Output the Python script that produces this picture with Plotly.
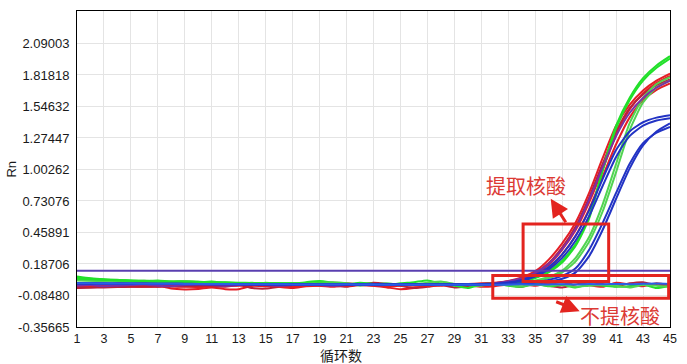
import plotly.graph_objects as go

cycles = list(range(1, 46))

# ---- non-amplifying (不提核酸) curves ----
red_flat_1 = [0.000, -0.005, 0.005, 0.020, 0.040,
              0.030, 0.005, -0.025, -0.032, -0.028,
              -0.015, -0.030, -0.030, 0.000, 0.012,
              0.005, -0.005, 0.000, 0.015, 0.025,
              0.020, 0.010, 0.000, -0.015, -0.030,
              -0.020, 0.000, 0.010, 0.015, 0.005,
              -0.010, -0.005, 0.010, 0.015, 0.000,
              0.020, 0.010, 0.030, 0.005, -0.010,
              0.025, 0.010, -0.005, 0.020, 0.000]
red_flat_2 = [-0.010, -0.012, -0.008, 0.000, 0.010,
              0.005, -0.010, 0.000, 0.015, 0.010,
              -0.005, -0.010, 0.005, -0.020, -0.025,
              -0.010, 0.005, 0.020, 0.010, 0.000,
              -0.010, 0.010, 0.025, 0.015, 0.000,
              -0.020, -0.010, 0.005, -0.015, -0.005,
              0.010, 0.020, 0.005, -0.010, 0.025,
              0.000, -0.015, 0.010, 0.030, 0.015,
              -0.005, 0.020, 0.030, 0.005, 0.010]
green_flat_1 = [0.080, 0.065, 0.055, 0.048, 0.045,
                0.040, 0.045, 0.035, 0.040, 0.030,
                0.035, 0.020, 0.015, 0.025, 0.010,
                0.000, 0.015, 0.030, 0.040, 0.025,
                0.010, 0.025, 0.015, 0.005, 0.020,
                0.030, 0.045, 0.020, 0.000, -0.020,
                0.010, 0.020, 0.000, -0.010, 0.015,
                -0.005, 0.005, -0.015, 0.010, 0.000,
                -0.010, -0.005, 0.010, -0.020, 0.000]
green_flat_2 = [0.060, 0.055, 0.050, 0.050, 0.040,
                0.045, 0.035, 0.030, 0.040, 0.035,
                0.025, 0.030, 0.020, 0.010, 0.025,
                0.015, 0.005, 0.010, 0.025, 0.030,
                0.020, 0.000, 0.010, 0.020, 0.005,
                0.010, 0.025, 0.035, 0.015, 0.005,
                0.000, 0.015, 0.005, -0.005, 0.010,
                0.000, 0.010, -0.010, 0.000, 0.005,
                0.000, -0.015, 0.005, 0.000, -0.010]
blue_flat = [0.020, 0.020, 0.019, 0.018, 0.018,
             0.017, 0.016, 0.016, 0.015, 0.015,
             0.014, 0.014, 0.013, 0.013, 0.012,
             0.012, 0.011, 0.011, 0.010, 0.010,
             0.012, 0.009, 0.010, 0.008, 0.009,
             0.008, 0.010, 0.007, 0.008, 0.009,
             0.007, 0.008, 0.010, 0.012, 0.009,
             0.011, 0.013, 0.010, 0.014, 0.012,
             0.015, 0.013, 0.016, 0.018, 0.015]

# ---- amplifying (提取核酸) curves ----
red_amp_1 = [-0.015, -0.010, -0.012, 0.005, 0.000,
             -0.010, -0.005, 0.010, 0.000, -0.015,
             -0.005, 0.005, 0.000, 0.010, 0.005,
             -0.010, -0.020, -0.005, 0.000, -0.010,
             0.005, 0.015, 0.010, -0.005, 0.000,
             0.010, 0.005, 0.000, 0.010, 0.015,
             0.020, 0.025, 0.040, 0.070, 0.125,
             0.225, 0.365, 0.545, 0.800, 1.100,
             1.380, 1.560, 1.685, 1.770, 1.830]
red_amp_2 = [0.005, 0.000, -0.005, -0.008, -0.010,
             -0.005, 0.000, 0.005, 0.000, -0.005,
             0.000, 0.005, 0.010, 0.005, 0.000,
             0.005, 0.010, 0.005, 0.000, 0.005,
             0.010, 0.005, 0.000, 0.005, 0.010,
             0.005, 0.000, 0.005, 0.010, 0.010,
             0.015, 0.020, 0.030, 0.055, 0.100,
             0.180, 0.310, 0.480, 0.720, 1.000,
             1.300, 1.520, 1.660, 1.750, 1.810]
red_amp_3 = [-0.010, -0.008, -0.005, -0.005, 0.000,
             0.005, 0.000, -0.005, -0.010, -0.005,
             0.000, 0.000, 0.005, 0.000, -0.005,
             0.000, 0.005, 0.010, 0.005, 0.000,
             0.000, 0.005, 0.010, 0.005, 0.005,
             0.000, 0.005, 0.010, 0.005, 0.010,
             0.010, 0.015, 0.025, 0.045, 0.085,
             0.150, 0.270, 0.430, 0.660, 0.940,
             1.220, 1.450, 1.600, 1.690, 1.745]
darkred_amp = [-0.020, -0.018, -0.015, -0.012, -0.010,
               -0.010, -0.008, -0.005, -0.005, 0.000,
               0.000, 0.000, 0.005, 0.005, 0.005,
               0.005, 0.005, 0.010, 0.010, 0.010,
               0.010, 0.010, 0.010, 0.010, 0.010,
               0.010, 0.010, 0.010, 0.010, 0.012,
               0.015, 0.020, 0.035, 0.060, 0.110,
               0.195, 0.330, 0.510, 0.760, 1.050,
               1.330, 1.530, 1.650, 1.730, 1.780]
green_amp_1 = [0.070, 0.060, 0.052, 0.046, 0.042,
               0.040, 0.038, 0.035, 0.033, 0.030,
               0.028, 0.026, 0.024, 0.022, 0.020,
               0.020, 0.018, 0.018, 0.016, 0.015,
               0.015, 0.014, 0.014, 0.013, 0.013,
               0.012, 0.012, 0.012, 0.012, 0.013,
               0.014, 0.016, 0.020, 0.035, 0.065,
               0.115, 0.200, 0.345, 0.580, 1.000,
               1.380, 1.620, 1.790, 1.900, 1.980]
green_amp_2 = [0.060, 0.055, 0.050, 0.046, 0.043,
               0.040, 0.037, 0.034, 0.032, 0.030,
               0.028, 0.027, 0.025, 0.024, 0.022,
               0.021, 0.020, 0.019, 0.018, 0.017,
               0.016, 0.016, 0.015, 0.015, 0.014,
               0.014, 0.013, 0.013, 0.013, 0.014,
               0.015, 0.017, 0.022, 0.038, 0.070,
               0.125, 0.215, 0.360, 0.600, 0.990,
               1.360, 1.600, 1.770, 1.880, 1.960]
lightgreen_amp_1 = [0.050, 0.045, 0.042, 0.040, 0.037,
                    0.035, 0.033, 0.030, 0.028, 0.026,
                    0.025, 0.024, 0.022, 0.021, 0.020,
                    0.019, 0.018, 0.017, 0.016, 0.015,
                    0.015, 0.014, 0.014, 0.013, 0.013,
                    0.012, 0.012, 0.012, 0.012, 0.012,
                    0.013, 0.014, 0.016, 0.025, 0.045,
                    0.075, 0.130, 0.240, 0.420, 0.700,
                    1.050, 1.400, 1.620, 1.740, 1.800]
lightgreen_amp_2 = [0.045, 0.042, 0.040, 0.038, 0.035,
                    0.033, 0.031, 0.029, 0.027, 0.025,
                    0.024, 0.023, 0.022, 0.021, 0.020,
                    0.019, 0.018, 0.017, 0.016, 0.015,
                    0.015, 0.014, 0.014, 0.013, 0.013,
                    0.012, 0.012, 0.012, 0.012, 0.012,
                    0.012, 0.013, 0.015, 0.022, 0.038,
                    0.065, 0.115, 0.210, 0.380, 0.640,
                    0.980, 1.340, 1.580, 1.710, 1.770]
purple_amp = [0.000, 0.005, -0.005, 0.000, 0.005,
              0.010, 0.000, -0.005, 0.005, 0.010,
              0.005, 0.000, 0.005, 0.010, 0.005,
              0.000, 0.005, 0.010, 0.005, 0.000,
              0.005, 0.010, 0.005, 0.005, 0.010,
              0.005, 0.010, 0.005, 0.010, 0.010,
              0.015, 0.022, 0.038, 0.065, 0.110,
              0.190, 0.315, 0.490, 0.740, 1.020,
              1.290, 1.490, 1.620, 1.710, 1.770]
blue_amp_1 = [0.022, 0.021, 0.020, 0.019, 0.018,
              0.018, 0.017, 0.016, 0.016, 0.015,
              0.015, 0.014, 0.014, 0.013, 0.013,
              0.012, 0.012, 0.012, 0.011, 0.011,
              0.011, 0.010, 0.010, 0.010, 0.010,
              0.010, 0.010, 0.010, 0.010, 0.011,
              0.013, 0.017, 0.027, 0.050, 0.090,
              0.160, 0.270, 0.430, 0.650, 0.920,
              1.170, 1.330, 1.410, 1.450, 1.470]
blue_amp_2 = [0.020, 0.019, 0.019, 0.018, 0.017,
              0.017, 0.016, 0.016, 0.015, 0.015,
              0.014, 0.014, 0.013, 0.013, 0.012,
              0.012, 0.012, 0.011, 0.011, 0.011,
              0.010, 0.010, 0.010, 0.010, 0.010,
              0.010, 0.010, 0.010, 0.010, 0.011,
              0.012, 0.015, 0.023, 0.042, 0.078,
              0.140, 0.240, 0.390, 0.600, 0.860,
              1.110, 1.290, 1.380, 1.425, 1.445]
blue_amp_3 = [0.018, 0.018, 0.017, 0.017, 0.016,
              0.016, 0.015, 0.015, 0.014, 0.014,
              0.013, 0.013, 0.013, 0.012, 0.012,
              0.012, 0.011, 0.011, 0.011, 0.010,
              0.010, 0.010, 0.010, 0.010, 0.010,
              0.010, 0.010, 0.010, 0.010, 0.010,
              0.010, 0.011, 0.013, 0.018, 0.025,
              0.034, 0.060, 0.115, 0.255, 0.480,
              0.750, 1.010, 1.210, 1.330, 1.400]
blue_amp_4 = [0.016, 0.016, 0.015, 0.015, 0.015,
              0.014, 0.014, 0.014, 0.013, 0.013,
              0.013, 0.012, 0.012, 0.012, 0.011,
              0.011, 0.011, 0.011, 0.010, 0.010,
              0.010, 0.010, 0.010, 0.010, 0.010,
              0.010, 0.010, 0.010, 0.010, 0.010,
              0.011, 0.012, 0.015, 0.021, 0.032,
              0.050, 0.085, 0.150, 0.310, 0.540,
              0.800, 1.050, 1.230, 1.320, 1.370]

threshold = 0.128

y_tick_values = [-0.35665, -0.08480, 0.18706, 0.45891, 0.73076,
                 1.00262, 1.27447, 1.54632, 1.81818, 2.09003]
y_tick_labels = ["-0.35665", "-0.08480", "0.18706", "0.45891", "0.73076",
                 "1.00262", "1.27447", "1.54632", "1.81818", "2.09003"]
x_tick_values = list(range(1, 46, 2))

RED = "#e41e26"
DARKRED = "#b8203c"
GREEN = "#22e02a"
LIGHTGREEN = "#52d452"
BLUE = "#2233c4"
BLUEFLAT = "#2a5ee6"
PURPLE = "#7a2fa8"
THRESH = "#5a3fb0"
ANN = "#dc3a34"
BOX = "#e3241f"

series = [
    (red_flat_1, RED), (red_flat_2, DARKRED),
    (green_flat_1, GREEN), (green_flat_2, LIGHTGREEN),
    (red_amp_1, RED), (red_amp_2, RED), (red_amp_3, RED), (darkred_amp, DARKRED),
    (lightgreen_amp_1, LIGHTGREEN), (lightgreen_amp_2, LIGHTGREEN),
    (green_amp_1, GREEN), (green_amp_2, GREEN),
    (purple_amp, PURPLE),
    (blue_amp_3, BLUE), (blue_amp_4, BLUE), (blue_amp_1, BLUE), (blue_amp_2, BLUE),
    (blue_flat, BLUEFLAT),
]

fig = go.Figure()
for vals, col in series:
    fig.add_trace(go.Scatter(x=cycles, y=vals, mode="lines",
                             line=dict(color=col, width=2, shape="spline", smoothing=0.6),
                             showlegend=False, hoverinfo="skip"))

fig.add_trace(go.Scatter(x=[cycles[0], cycles[-1]], y=[threshold, threshold], mode="lines",
                         line=dict(color=THRESH, width=2), showlegend=False, hoverinfo="skip"))

tick_font = dict(family="Liberation Sans, Arial, sans-serif", size=13, color="#1a1a1a")
x_tick_font = dict(family="Liberation Sans, Arial, sans-serif", size=12.5, color="#1a1a1a")
cjk = "Noto Sans CJK SC"

fig.update_layout(
    width=687, height=364,
    margin=dict(l=77, r=14, t=10, b=37),
    paper_bgcolor="white", plot_bgcolor="white",
    xaxis=dict(range=[1, 45], tickvals=x_tick_values, tickfont=x_tick_font,
               showgrid=True, gridcolor="#e4e4e4", gridwidth=1, zeroline=False,
               showline=True, linecolor="black", linewidth=1, mirror=True,
               ticks=""),
    yaxis=dict(range=[-0.35665, 2.37], tickvals=y_tick_values, ticktext=y_tick_labels,
               tickfont=tick_font, showgrid=True, gridcolor="#e4e4e4", gridwidth=1,
               zeroline=False, showline=True, linecolor="black", linewidth=1, mirror=True,
               ticks="outside", ticklen=4, tickcolor="rgba(0,0,0,0)"),
    shapes=[
        dict(type="rect", xref="x", yref="y", x0=34.1, x1=40.45, y0=0.037, y1=0.532,
             line=dict(color=BOX, width=3)),
        dict(type="rect", xref="x", yref="y", x0=31.85, x1=44.9, y0=-0.109, y1=0.088,
             line=dict(color=BOX, width=3)),
    ],
    annotations=[
        dict(text="Rn", xref="paper", yref="paper", x=-0.112, y=0.5, xanchor="center",
             yanchor="middle", showarrow=False, textangle=-90,
             font=dict(family="Liberation Sans, Arial, sans-serif", size=13, color="#1a1a1a")),
        dict(text="循环数", xref="paper", yref="paper", x=0.446, y=-0.088,
             xanchor="center", yanchor="middle",
             showarrow=False, font=dict(family=cjk, size=14, color="#1a1a1a")),
        dict(text="提取核酸", xref="x", yref="y", x=34.3, y=0.866, showarrow=False,
             font=dict(family=cjk, size=20, color=ANN)),
        dict(text="不提核酸", xref="x", yref="y", x=41.3, y=-0.254, showarrow=False,
             font=dict(family=cjk, size=20, color=ANN)),
        dict(text="", xref="x", yref="y", x=36.15, y=0.75, showarrow=True,
             ax=16, ay=25, arrowhead=2, arrowsize=1.2, arrowwidth=3, arrowcolor=BOX),
        dict(text="", xref="x", yref="y", x=38.3, y=-0.220, showarrow=True,
             ax=-25, ay=-10, arrowhead=2, arrowsize=1.2, arrowwidth=3, arrowcolor=BOX),
    ],
)

fig.write_html("out.html", config={"displayModeBar": False},
               post_script="document.body.style.margin='0px';document.body.style.overflow='hidden';")
